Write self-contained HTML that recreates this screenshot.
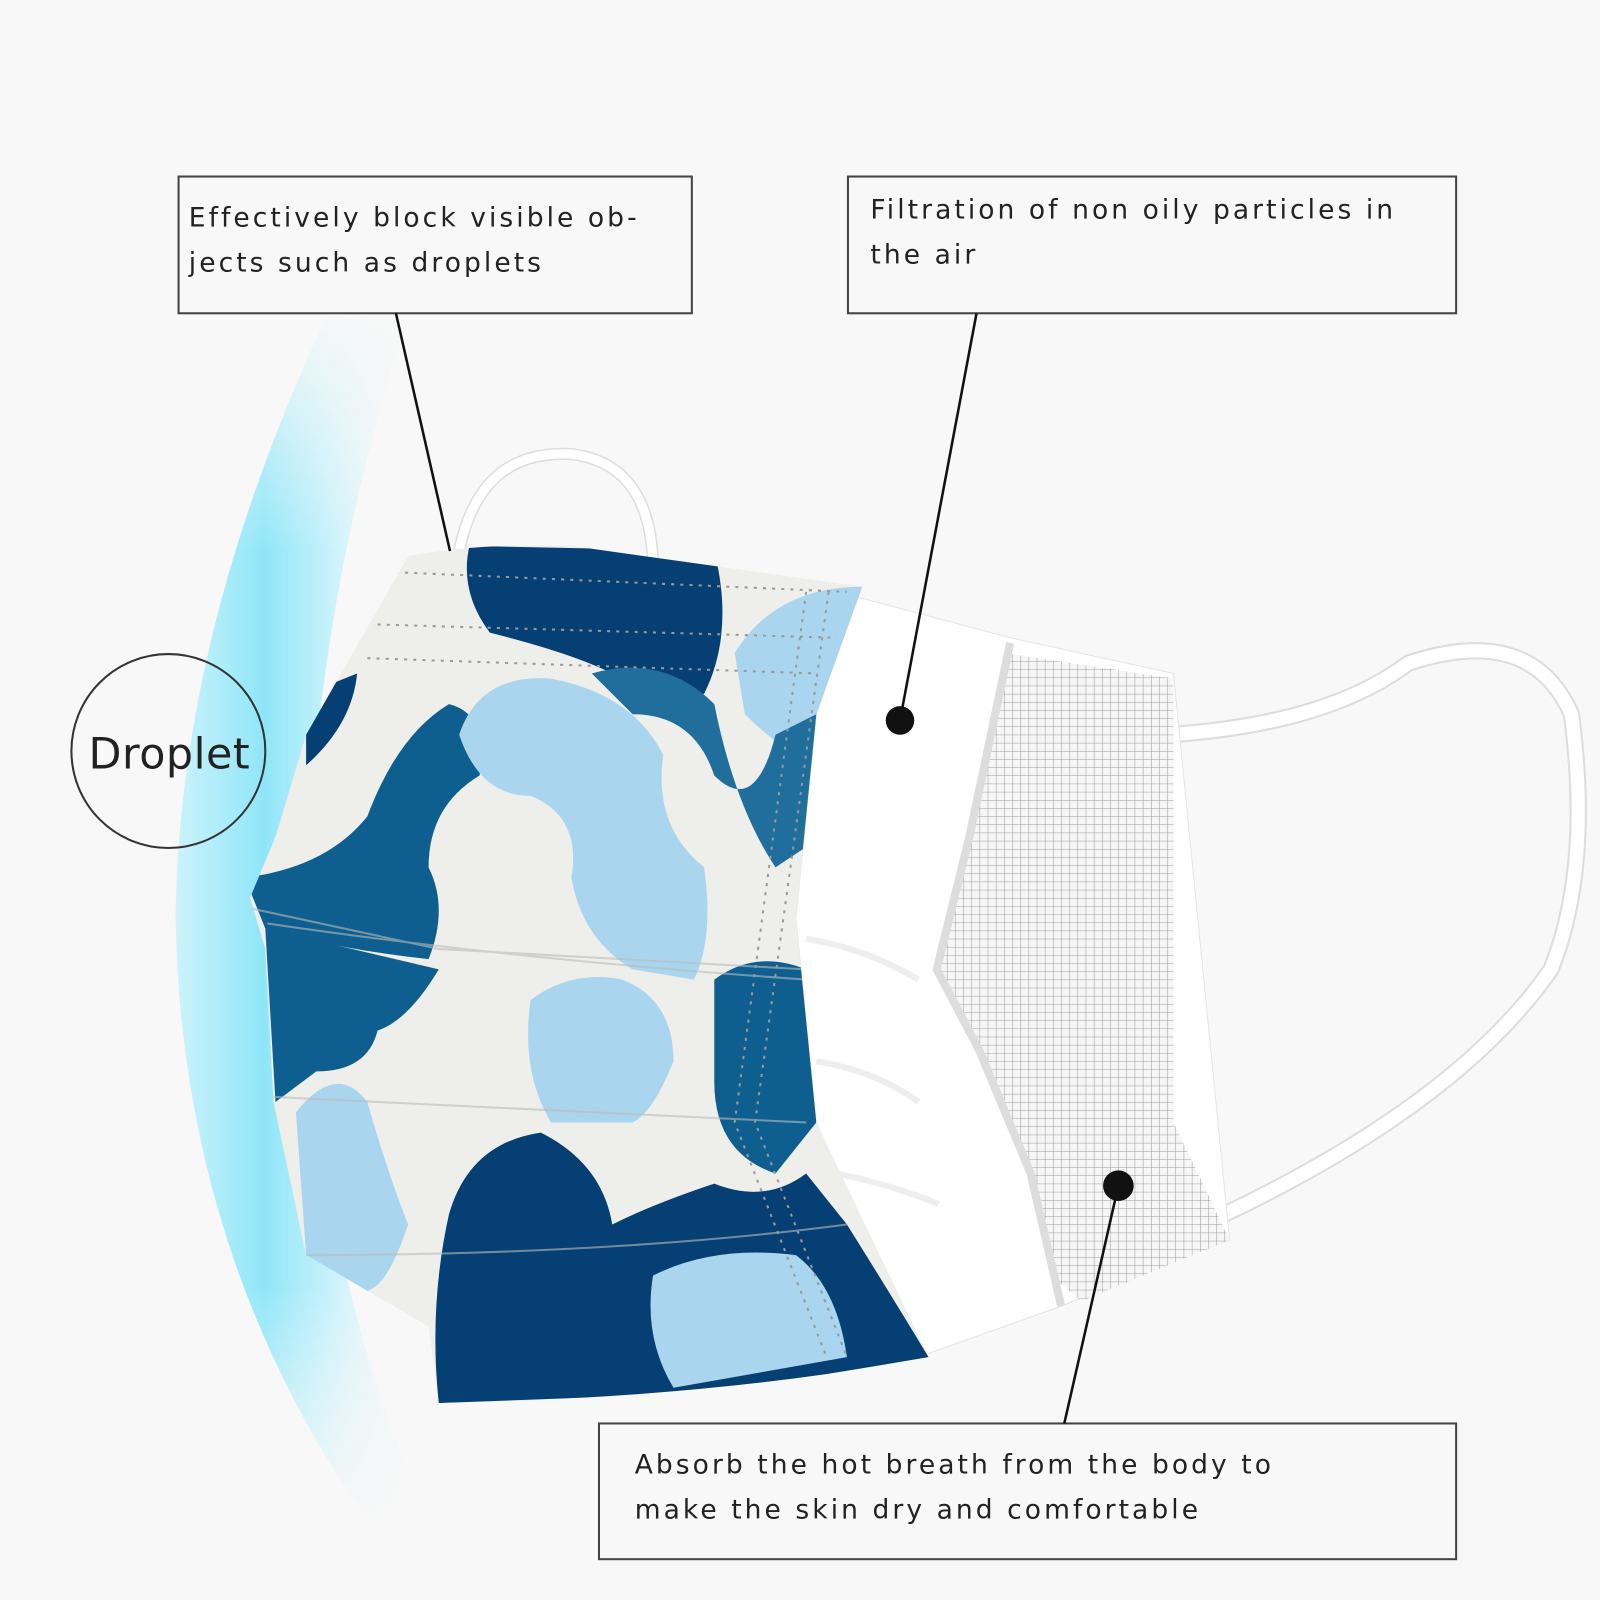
<!DOCTYPE html>
<html><head><meta charset="utf-8"><style>
html,body{margin:0;padding:0;background:#f8f8f8;}
svg{display:block}
text{font-family:"DejaVu Sans","Liberation Sans",sans-serif;fill:#222}
</style></head><body>
<svg width="1600" height="1600" viewBox="0 0 1568 1568" xmlns="http://www.w3.org/2000/svg">
<defs>
<linearGradient id="glowH" x1="0" y1="0" x2="1" y2="0">
<stop offset="0" stop-color="#cdf3fb"/>
<stop offset="0.35" stop-color="#8fe6f8"/>
<stop offset="0.6" stop-color="#c5f1fb"/>
<stop offset="1" stop-color="#f8f8f8" stop-opacity="0"/>
</linearGradient>
<linearGradient id="glowV" x1="0" y1="0" x2="0" y2="1">
<stop offset="0" stop-color="#fff" stop-opacity="0"/>
<stop offset="0.2" stop-color="#fff" stop-opacity="1"/>
<stop offset="0.8" stop-color="#fff" stop-opacity="1"/>
<stop offset="1" stop-color="#fff" stop-opacity="0"/>
</linearGradient>
<mask id="vm"><rect x="0" y="300" width="600" height="1200" fill="url(#glowV)"/></mask>
<pattern id="mesh" width="8" height="8" patternUnits="userSpaceOnUse">
<rect width="8" height="8" fill="#f6f6f6"/>
<path d="M0 0H8M0 0V8" stroke="#9a9a9a" stroke-width="1"/>
</pattern>
<clipPath id="front">
<path d="M400 545 Q470 532 560 535 L845 575 L800 700 L780 900 L800 1100 L910 1330 Q700 1370 430 1375 L420 1300 L360 1265 L300 1230 L268 1080 L260 930 L245 880 L270 820 L300 720 Z"/>
</clipPath>
</defs>
<rect width="1568" height="1568" fill="#f8f8f8"/>
<g mask="url(#vm)">
<path d="M320 310 Q175 620 172 900 Q178 1230 360 1490 L420 1490 Q300 1220 300 900 Q305 600 400 310 Z" fill="url(#glowH)"/>
</g>

<path d="M450 540 Q470 440 560 445 Q640 455 640 560" fill="none" stroke="#ddd" stroke-width="12"/>
<path d="M450 540 Q470 440 560 445 Q640 455 640 560" fill="none" stroke="#fff" stroke-width="9"/>
<path d="M1145 720 Q1300 710 1380 650 Q1500 610 1540 700 Q1560 850 1520 950 Q1430 1080 1200 1190" fill="none" stroke="#ddd" stroke-width="17"/>
<path d="M1145 720 Q1300 710 1380 650 Q1500 610 1540 700 Q1560 850 1520 950 Q1430 1080 1200 1190" fill="none" stroke="#fff" stroke-width="13"/>

<path d="M840 585 L990 625 L1150 660 L1205 1215 L1040 1280 L900 1330 L800 1100 L780 900 L800 700 Z" fill="#fff" stroke="#e4e4e4"/>
<path d="M985 640 L1150 665 L1150 1100 L1205 1215 L1060 1275 L1030 1250 L1010 1150 L960 1030 L920 950 L950 820 Z" fill="url(#mesh)"/>
<path d="M990 630 L950 820 L918 950 L960 1030 L1010 1150 L1040 1280" fill="none" stroke="#ddd" stroke-width="8"/>
<path d="M790 920 Q850 930 900 960 M800 1040 Q860 1050 900 1080 M820 1150 Q870 1160 920 1180" fill="none" stroke="#eee" stroke-width="6"/>

<g clip-path="url(#front)">
<rect x="230" y="520" width="700" height="880" fill="#eeeeea"/>
<path d="M460 535 L700 540 Q720 620 690 680 Q630 690 600 660 Q560 640 480 620 Q450 580 460 535Z" fill="#053f73"/>
<path d="M720 640 Q760 575 845 575 L820 760 Q770 740 730 700Z" fill="#a9d6ee"/>
<path d="M580 660 Q650 640 700 690 Q720 790 760 850 L790 830 L800 700 L760 720 Q740 800 700 760 Q680 700 620 700Z" fill="#1f6e9b"/>
<path d="M300 680 L350 660 Q345 710 300 750Z" fill="#053f73"/>
<path d="M240 860 Q320 850 360 800 Q390 720 440 690 Q480 700 470 760 Q420 790 420 850 Q440 890 420 940 Q330 930 260 910Z" fill="#0e5f8f"/>
<path d="M450 720 Q470 660 540 665 Q620 680 650 740 Q640 810 690 850 Q700 920 680 960 L620 950 Q570 920 560 860 Q570 800 520 780 Q470 780 450 720Z" fill="#a9d6ee"/>
<path d="M260 910 L430 950 Q400 1000 370 1010 Q360 1050 310 1050 L270 1080Z" fill="#0e5f8f"/>
<path d="M520 980 Q560 950 610 960 Q660 980 660 1040 Q640 1090 620 1100 L540 1100 Q510 1050 520 980Z" fill="#a9d6ee"/>
<path d="M700 960 Q740 930 790 950 L800 1100 L760 1150 Q700 1130 700 1060Z" fill="#0e5f8f"/>
<path d="M290 1090 Q330 1040 360 1080 Q380 1150 400 1200 Q380 1260 360 1265 L300 1230Z" fill="#a9d6ee"/>
<path d="M440 1190 Q460 1120 530 1110 Q590 1140 600 1200 Q640 1180 700 1160 Q750 1180 790 1150 L830 1200 Q880 1280 910 1330 L700 1365 L430 1375 Q420 1280 440 1190Z" fill="#053f73"/>
<path d="M640 1250 Q700 1220 780 1230 Q820 1260 830 1330 L660 1360 Q630 1310 640 1250Z" fill="#a9d6ee"/>
<path d="M245 890 L430 930 L790 950 M262 905 Q500 940 790 960" stroke="#bbb" stroke-width="2" fill="none" opacity="0.6"/>
<path d="M268 1075 L790 1100 M300 1230 Q600 1230 830 1200" stroke="#bbb" stroke-width="2" fill="none" opacity="0.6"/>
<path d="M370 560 L830 580 M370 612 L820 625 M360 645 L800 660" stroke="#999" stroke-width="2" stroke-dasharray="3 6" fill="none"/>
<path d="M790 580 L720 1100 L810 1330 M812 580 L740 1100 L830 1330" stroke="#999" stroke-width="2" stroke-dasharray="3 6" fill="none"/>
</g>

<circle cx="165" cy="736" r="95" fill="none" stroke="#333" stroke-width="2"/>
<text x="166" y="753" font-size="42" text-anchor="middle" letter-spacing="0.5">Droplet</text>

<g font-size="26" letter-spacing="3">
<rect x="175" y="173" width="503" height="134" fill="#f8f8f8" stroke="#444" stroke-width="2"/>
<text x="185" y="222">Effectively block visible ob-</text>
<text x="185" y="266">jects such as droplets</text>
<rect x="831" y="173" width="596" height="134" fill="#f8f8f8" stroke="#444" stroke-width="2"/>
<text x="853" y="214">Filtration of non oily particles in</text>
<text x="853" y="258">the air</text>
<rect x="587" y="1395" width="840" height="133" fill="#f8f8f8" stroke="#444" stroke-width="2"/>
<text x="622" y="1444">Absorb the hot breath from the body to</text>
<text x="622" y="1488">make the skin dry and comfortable</text>
</g>

<line x1="388" y1="307" x2="441" y2="540" stroke="#111" stroke-width="2.5"/>
<line x1="957" y1="307" x2="882" y2="706" stroke="#111" stroke-width="2.5"/>
<circle cx="882" cy="706" r="14" fill="#111"/>
<line x1="1096" y1="1162" x2="1043" y2="1395" stroke="#111" stroke-width="2.5"/>
<circle cx="1096" cy="1162" r="15" fill="#111"/>
</svg>
</body></html>
